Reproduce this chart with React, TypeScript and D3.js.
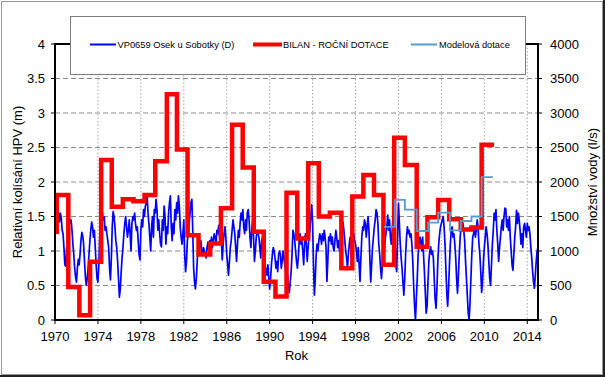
import React from "react";
import * as d3 from "d3";

// ---- Data ----
const xTicks = [1970, 1974, 1978, 1982, 1986, 1990, 1994, 1998, 2002, 2006, 2010, 2014];
const yLeftTicks = [0, 0.5, 1, 1.5, 2, 2.5, 3, 3.5, 4];
const yRightTicks = [0, 500, 1000, 1500, 2000, 2500, 3000, 3500, 4000];

const seriesNames = ["VP0659 Osek u Sobotky (D)", "BILAN - ROČNÍ DOTACE", "Modelová dotace"];

// monthly groundwater level fluctuation (m), from Jan 1970
const hpvStartYear = 1970;
const hpvMonthly = [
  1.32, 1.45, 1.58, 1.50, 1.55, 1.42, 1.55, 1.48, 1.30, 1.25, 1.05, 0.80, // 1970
  0.78, 1.05, 0.85, 1.20, 1.47, 1.40, 1.45, 1.30, 1.10, 0.95, 0.75, 0.62, // 1971
  0.55, 0.75, 0.88, 0.80, 0.95, 1.15, 1.27, 1.22, 1.10, 0.85, 0.62, 0.50, // 1972
  0.60, 0.75, 0.95, 1.15, 1.30, 1.42, 1.35, 1.20, 1.30, 1.05, 0.80, 0.60, // 1973
  0.55, 0.80, 1.20, 1.55, 1.70, 1.55, 1.45, 1.50, 1.30, 1.35, 1.25, 1.15, // 1974
  1.05, 0.75, 0.58, 0.90, 1.35, 1.57, 1.50, 1.35, 1.15, 1.05, 0.85, 0.60, // 1975
  0.33, 0.45, 0.70, 0.90, 1.05, 1.25, 1.40, 1.50, 1.35, 1.20, 1.30, 1.45, // 1976
  1.25, 1.00, 1.40, 1.50, 1.45, 1.55, 1.40, 1.30, 1.35, 1.15, 0.95, 0.87, // 1977
  1.30, 1.45, 1.35, 1.60, 1.50, 1.65, 1.70, 1.80, 1.55, 1.40, 1.20, 1.00, // 1978
  1.35, 1.50, 1.20, 1.60, 1.55, 1.75, 1.60, 1.30, 1.45, 1.25, 1.10, 1.06, // 1979
  1.45, 1.30, 1.65, 1.50, 1.10, 1.35, 1.25, 1.55, 1.70, 1.80, 1.35, 1.15, // 1980
  1.40, 1.25, 1.60, 1.45, 1.70, 1.55, 1.80, 1.65, 1.35, 1.20, 1.10, 1.25, // 1981
  1.45, 0.95, 0.70, 0.85, 1.15, 1.25, 1.40, 1.55, 1.70, 1.75, 1.30, 0.75, // 1982
  0.55, 0.45, 0.60, 0.85, 1.10, 1.15, 1.05, 1.15, 1.00, 0.95, 1.05, 1.00, // 1983
  0.97, 0.90, 1.05, 1.13, 1.00, 1.15, 1.10, 1.20, 1.05, 1.15, 1.25, 1.20, // 1984
  1.10, 1.30, 1.25, 1.37, 1.20, 1.30, 1.15, 0.87, 1.10, 1.25, 1.35, 1.20, // 1985
  0.95, 0.80, 0.65, 0.85, 1.05, 1.15, 1.30, 1.45, 1.35, 1.25, 1.05, 0.85, // 1986
  1.10, 1.30, 1.20, 1.40, 1.55, 1.45, 1.60, 1.35, 1.25, 1.45, 1.30, 1.55, // 1987
  1.60, 1.45, 1.20, 1.05, 1.30, 1.45, 1.20, 0.85, 1.00, 1.20, 1.30, 1.25, // 1988
  1.20, 1.05, 0.90, 1.15, 1.20, 1.10, 0.95, 0.80, 0.70, 0.65, 0.80, 0.60, // 1989
  0.45, 0.60, 0.80, 0.95, 1.05, 1.00, 0.90, 0.75, 0.85, 0.70, 0.95, 1.00, // 1990
  0.95, 0.75, 0.85, 1.00, 0.90, 0.80, 0.70, 0.55, 0.65, 0.45, 0.40, 0.55, // 1991
  0.70, 0.95, 1.30, 1.25, 1.15, 1.00, 0.85, 0.75, 0.90, 1.15, 1.25, 1.10, // 1992
  1.15, 1.00, 0.80, 1.10, 1.25, 1.10, 0.85, 1.05, 1.20, 1.30, 1.50, 1.67, // 1993
  1.40, 0.80, 0.36, 0.60, 0.95, 1.10, 1.00, 1.15, 1.25, 1.20, 1.10, 1.25, // 1994
  1.15, 1.30, 1.20, 1.05, 0.56, 0.85, 1.20, 1.15, 1.25, 1.10, 1.20, 1.05, // 1995
  1.00, 1.15, 1.30, 1.20, 1.05, 1.15, 1.00, 1.10, 1.20, 1.30, 1.42, 1.30, // 1996
  1.15, 1.00, 0.90, 0.75, 0.95, 1.10, 1.20, 1.05, 0.85, 1.10, 1.25, 1.15, // 1997
  1.10, 1.00, 0.85, 1.05, 0.80, 0.56, 0.90, 1.20, 1.35, 1.30, 1.45, 1.40, // 1998
  1.20, 1.35, 1.50, 1.30, 0.90, 0.55, 0.80, 1.05, 1.20, 1.35, 1.45, 1.60, // 1999
  1.55, 1.40, 1.10, 0.95, 0.75, 0.60, 0.80, 1.00, 0.95, 1.15, 1.25, 1.35, // 2000
  1.52, 1.30, 1.45, 1.20, 1.10, 1.30, 1.50, 1.55, 1.20, 0.80, 0.70, 1.20, // 2001
  1.69, 1.40, 1.10, 0.90, 0.75, 0.55, 0.36, 0.60, 0.95, 1.20, 1.35, 1.25, // 2002
  1.30, 1.20, 1.25, 1.10, 0.85, 0.50, 0.20, 0.00, 0.30, 0.60, 0.95, 1.10, // 2003
  1.20, 1.15, 1.00, 1.20, 0.95, 0.70, 0.40, 0.10, 0.20, 0.55, 0.85, 1.00, // 2004
  1.06, 0.95, 1.00, 0.90, 0.60, 0.30, 0.17, 0.45, 0.85, 1.10, 1.25, 1.35, // 2005
  1.40, 1.45, 1.50, 1.35, 1.10, 0.75, 0.40, 0.20, 0.45, 0.80, 1.10, 1.30, // 2006
  1.35, 1.20, 1.25, 1.10, 0.90, 0.60, 0.39, 0.65, 0.95, 1.20, 1.35, 1.45, // 2007
  1.40, 1.30, 1.15, 0.85, 0.60, 0.35, 0.10, 0.00, 0.25, 0.60, 0.95, 1.20, // 2008
  1.25, 1.35, 1.20, 1.30, 1.45, 1.35, 1.10, 0.95, 0.70, 0.40, 0.55, 0.85, // 2009
  1.05, 1.20, 1.35, 1.25, 1.10, 0.85, 0.60, 0.50, 0.80, 1.10, 1.30, 1.55, // 2010
  1.45, 1.60, 1.30, 1.10, 0.85, 1.05, 1.20, 1.35, 1.45, 1.30, 1.50, 1.62, // 2011
  1.61, 1.35, 1.45, 1.30, 1.50, 1.20, 1.00, 0.80, 0.72, 0.95, 1.20, 1.35, // 2012
  1.59, 1.40, 1.55, 1.45, 1.30, 1.10, 1.25, 1.05, 1.35, 1.40, 1.30, 1.20, // 2013
  1.40, 1.30, 1.35, 1.25, 1.05, 0.90, 0.70, 0.55, 0.46, 0.65, 0.85, 1.00, // 2014
  1.05, // 2015
];

// BILAN annual recharge (l/s): step start years and values
const bilanYears = [1970.0, 1970.16, 1971.24, 1972.27, 1973.27, 1974.3, 1975.29, 1976.32, 1977.31, 1978.34,
  1979.34, 1980.42, 1981.36, 1982.35, 1983.37, 1984.46, 1985.46, 1986.5, 1987.49, 1988.52,
  1989.45, 1990.54, 1991.57, 1992.57, 1993.59, 1994.58, 1995.61, 1996.68, 1997.7, 1998.73,
  1999.72, 2000.6, 2001.6, 2002.6, 2003.7, 2004.7, 2005.7, 2006.73, 2007.8, 2008.8, 2009.75];
const bilanValues = [1280, 1810, 480, 70, 845, 2320, 1640, 1750, 1720, 1810,
  2300, 3270, 2470, 1230, 950, 1110, 1620, 2830, 2210, 1280,
  555, 340, 1845, 1180, 2270, 1500, 1555, 750, 1790, 2100,
  1810, 800, 2640, 2245, 1060, 1490, 1740, 1460, 1310, 1340, 2540];
const bilanEnd = 2010.9;

// Model recharge (l/s)
const modelYears = [2000.65, 2001.67, 2002.6, 2003.7, 2004.77, 2005.7, 2006.8, 2007.8, 2008.8, 2009.75];
const modelValues = [1350, 1740, 1600, 1290, 1410, 1555, 1300, 1435, 1500, 2070];
const modelEnd = 2010.8;

// ---- Layout ----
const W = 605, H = 377;
const L = 55, R = 538, T = 44, B = 320;
const FONT = "Arial, 'Liberation Sans', sans-serif";

function stepPoints(years: number[], values: number[], end: number): [number, number][] {
  const pts: [number, number][] = [];
  years.forEach((y, i) => {
    pts.push([y, values[i]]);
    const next = i < years.length - 1 ? years[i + 1] : end;
    pts.push([next, values[i]]);
  });
  return pts;
}

export default function App() {
  const x = d3.scaleLinear().domain([1970, 2015]).range([L, R]);
  const y = d3.scaleLinear().domain([0, 4]).range([B, T]);
  const yr = d3.scaleLinear().domain([0, 4000]).range([B, T]);

  const hpvLine = d3.line<number>()
    .x((_, i) => x(hpvStartYear + i / 12))
    .y((d) => y(d));
  const stepLine = d3.line<[number, number]>()
    .x((d) => x(d[0]))
    .y((d) => yr(d[1]));

  const bilanPts = stepPoints(bilanYears, bilanValues, bilanEnd);
  const modelPts = stepPoints(modelYears, modelValues, modelEnd);

  return (
    <svg width={W} height={H} style={{ position: "absolute", left: 0, top: 0, background: "#fff" }}
      fontFamily={FONT}>
      <rect x={0} y={0} width={W} height={H} fill="#fff" />
      {/* outer frame */}
      <rect x={1.5} y={1.5} width={601} height={373} fill="none" stroke="#9a9a9a" strokeWidth={1} />
      <line x1={0} x2={W} y1={376} y2={376} stroke="#222" strokeWidth={2} />
      <line x1={604} x2={604} y1={0} y2={H} stroke="#222" strokeWidth={2} />

      {/* horizontal gridlines */}
      {yLeftTicks.filter((t) => t > 0 && t < 4).map((t) => (
        <line key={"hg" + t} x1={L} x2={R} y1={y(t)} y2={y(t)} stroke="#8a8a8a" strokeWidth={1} strokeDasharray="5,3" />
      ))}
      {/* vertical gridlines */}
      {xTicks.filter((t) => t > 1970).map((t) => (
        <line key={"vg" + t} x1={x(t)} x2={x(t)} y1={T} y2={B} stroke="#a8a8a8" strokeWidth={1} strokeDasharray="1.5,2" />
      ))}

      {/* series */}
      <path d={hpvLine(hpvMonthly) || ""} fill="none" stroke="#0000ff" strokeWidth={1.7} strokeLinejoin="round" />
      <path d={stepLine(bilanPts) || ""} fill="none" stroke="#ff0000" strokeWidth={4.5} strokeLinejoin="miter" />
      <path d={stepLine(modelPts) || ""} fill="none" stroke="#5b9bd5" strokeWidth={1.8} strokeLinejoin="miter" />

      {/* plot border */}
      <rect x={L} y={T} width={R - L} height={B - T} fill="none" stroke="#000" strokeWidth={2} />

      {/* left axis ticks & labels */}
      {yLeftTicks.map((t) => (
        <g key={"yl" + t}>
          <line x1={L - 4} x2={L} y1={y(t)} y2={y(t)} stroke="#000" strokeWidth={1} />
          <text x={45} y={y(t) + 4.6} fontSize={13} textAnchor="end" fill="#000">{t}</text>
        </g>
      ))}
      {/* right axis */}
      {yRightTicks.map((t) => (
        <g key={"yr" + t}>
          <line x1={R} x2={R + 4} y1={yr(t)} y2={yr(t)} stroke="#000" strokeWidth={1} />
          <text x={550} y={yr(t) + 4.6} fontSize={13} textAnchor="start" fill="#000">{t}</text>
        </g>
      ))}
      {/* x axis */}
      {xTicks.map((t) => (
        <g key={"xt" + t}>
          <line x1={x(t)} x2={x(t)} y1={B} y2={B + 4} stroke="#000" strokeWidth={1} />
          <text x={x(t)} y={341} fontSize={13} textAnchor="middle" fill="#000">{t}</text>
        </g>
      ))}

      {/* axis titles */}
      <text x={296.5} y={360} fontSize={13} textAnchor="middle" fill="#000">Rok</text>
      <text transform={`translate(22,${(T + B) / 2}) rotate(-90)`} fontSize={13} textAnchor="middle" fill="#000">
        Relativní kolísání HPV (m)
      </text>
      <text transform={`translate(597,${(T + B) / 2}) rotate(-90)`} fontSize={13} textAnchor="middle" fill="#000">
        Množství vody (l/s)
      </text>

      {/* legend */}
      <rect x={70.5} y={16.5} width={455} height={58} fill="#fff" stroke="#7f7f7f" strokeWidth={1} />
      <line x1={90} x2={116} y1={44.5} y2={44.5} stroke="#0000ff" strokeWidth={2} />
      <text x={117.5} y={48} fontSize={9.3} fill="#000">{seriesNames[0]}</text>
      <line x1={253} x2={282} y1={44.5} y2={44.5} stroke="#ff0000" strokeWidth={4} />
      <text x={283} y={48} fontSize={9.3} fill="#000">{seriesNames[1]}</text>
      <line x1={411} x2={437} y1={44.5} y2={44.5} stroke="#5b9bd5" strokeWidth={2} />
      <text x={439} y={48} fontSize={9.3} fill="#000">{seriesNames[2]}</text>
    </svg>
  );
}
